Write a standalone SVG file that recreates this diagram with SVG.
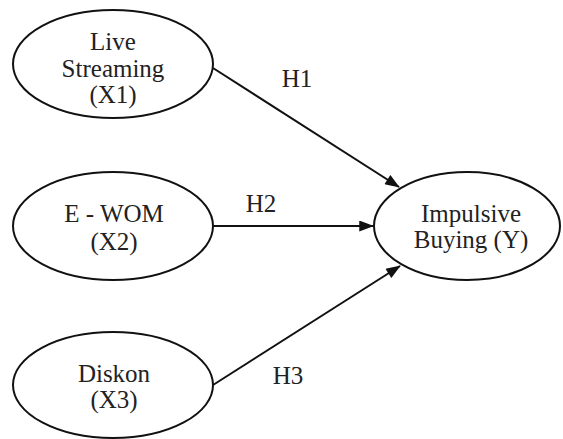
<svg xmlns="http://www.w3.org/2000/svg" width="563" height="439" viewBox="0 0 563 439">
<style>
.node ellipse{fill:#fff;stroke:#111;stroke-width:2}
.node text,.lbl{font-family:"Liberation Serif","Times New Roman",serif;font-size:25px;fill:#222;text-anchor:middle}
.edge{stroke:#111;stroke-width:2;fill:none;marker-end:url(#arr)}
</style>
<defs>
<marker id="arr" viewBox="0 0 16 12" refX="15" refY="6" markerWidth="16" markerHeight="11" markerUnits="userSpaceOnUse" orient="auto">
<path d="M0,0 L16,6 L0,12 Z" fill="#111"/>
</marker>
</defs>
<rect width="563" height="439" fill="#fff"/>
<g id="connectors">
<line class="edge" x1="213" y1="68" x2="399" y2="187"/>
<line class="edge" x1="212" y1="226" x2="373" y2="226"/>
<line class="edge" x1="213" y1="385" x2="400" y2="266"/>
<text class="lbl" x="297" y="87">H1</text>
<text class="lbl" x="261" y="212">H2</text>
<text class="lbl" x="288" y="384">H3</text>
</g>
<g id="x1" class="node">
<ellipse cx="113" cy="64" rx="100" ry="54"/>
<text x="113" y="50">Live</text>
<text x="113" y="77">Streaming</text>
<text x="113" y="103">(X1)</text>
</g>
<g id="x2" class="node">
<ellipse cx="113" cy="226" rx="100" ry="54"/>
<text x="114" y="222">E - WOM</text>
<text x="114" y="250">(X2)</text>
</g>
<g id="x3" class="node">
<ellipse cx="113" cy="385" rx="100" ry="53"/>
<text x="114" y="382">Diskon</text>
<text x="114" y="408">(X3)</text>
</g>
<g id="y" class="node">
<ellipse cx="467" cy="226" rx="93" ry="54"/>
<text x="471" y="222">Impulsive</text>
<text x="471" y="248">Buying (Y)</text>
</g>
</svg>
